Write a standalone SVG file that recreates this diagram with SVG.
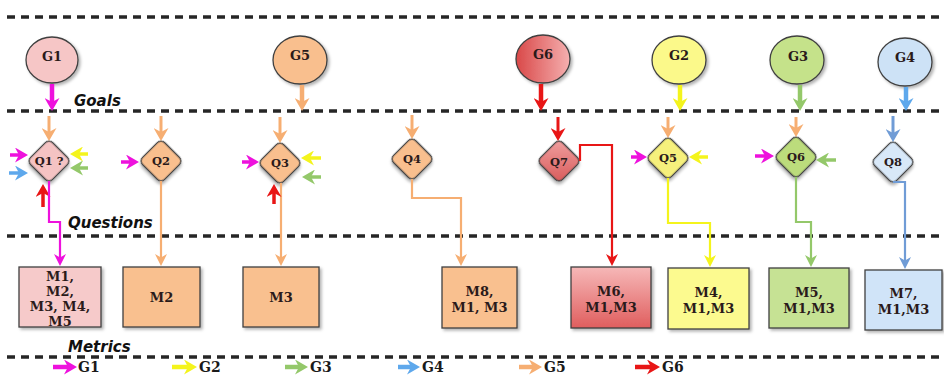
<svg xmlns="http://www.w3.org/2000/svg" width="944" height="376" viewBox="0 0 944 376">
  <style>
    .sep { stroke: #262626; stroke-width: 3.5; stroke-dasharray: 8 6; fill: none; }
    .lane { font-family: "DejaVu Sans", "Liberation Sans", sans-serif; font-weight: bold; font-style: italic; font-size: 15px; fill: #111; }
    .lbl { font-family: "DejaVu Serif", "Liberation Serif", serif; font-weight: bold; fill: #2a1a1a; text-anchor: middle; }
    .g { font-size: 13px; }
    .q { font-size: 11.5px; }
    .m { font-size: 13px; }
    .leg { font-family: "DejaVu Serif", "Liberation Serif", serif; font-weight: bold; font-size: 14px; fill: #1a1a1a; }
    .node { stroke: #404040; stroke-width: 1.3; filter: url(#shadow); }
    .big { fill: none; stroke-width: 4.5; }
    .in { fill: none; stroke-width: 3; }
    .side { fill: none; stroke-width: 3.5; }
    .flow { fill: none; stroke-width: 2.2; }
    .mag { stroke: #ee11dd; }
    .org { stroke: #f6ae72; }
    .red { stroke: #e81616; }
    .yel { stroke: #f4f41c; }
    .grn { stroke: #94c86a; }
    .blu { stroke: #5ea8ec; }
    .blu2 { stroke: #709cd6; }
  </style>
  <defs>
    <filter id="shadow" x="-30%" y="-30%" width="160%" height="160%">
      <feDropShadow dx="2" dy="2" stdDeviation="1.4" flood-color="#000" flood-opacity="0.3"/>
    </filter>
    <linearGradient id="redH" x1="0" y1="0" x2="1" y2="0">
      <stop offset="0" stop-color="#d94848"/>
      <stop offset="1" stop-color="#f5b0b0"/>
    </linearGradient>
    <linearGradient id="redD" x1="0" y1="0" x2="1" y2="1">
      <stop offset="0" stop-color="#f0a0a0"/>
      <stop offset="1" stop-color="#d85a5a"/>
    </linearGradient>
    <linearGradient id="redV" x1="0" y1="0" x2="0" y2="1">
      <stop offset="0" stop-color="#f6b8b8"/>
      <stop offset="1" stop-color="#e05e5e"/>
    </linearGradient>
    <!-- large notched heads: tip sits 8px beyond the path end -->
    <marker id="b-mag" viewBox="0 0 13 15" refX="5" refY="7.5" markerWidth="13" markerHeight="15" markerUnits="userSpaceOnUse" orient="auto"><path d="M0,0 L13,7.5 L0,15 L4,7.5 z" fill="#ee11dd"/></marker>
    <marker id="b-org" viewBox="0 0 13 15" refX="5" refY="7.5" markerWidth="13" markerHeight="15" markerUnits="userSpaceOnUse" orient="auto"><path d="M0,0 L13,7.5 L0,15 L4,7.5 z" fill="#f6ae72"/></marker>
    <marker id="b-red" viewBox="0 0 13 15" refX="5" refY="7.5" markerWidth="13" markerHeight="15" markerUnits="userSpaceOnUse" orient="auto"><path d="M0,0 L13,7.5 L0,15 L4,7.5 z" fill="#e81616"/></marker>
    <marker id="b-yel" viewBox="0 0 13 15" refX="5" refY="7.5" markerWidth="13" markerHeight="15" markerUnits="userSpaceOnUse" orient="auto"><path d="M0,0 L13,7.5 L0,15 L4,7.5 z" fill="#f4f41c"/></marker>
    <marker id="b-grn" viewBox="0 0 13 15" refX="5" refY="7.5" markerWidth="13" markerHeight="15" markerUnits="userSpaceOnUse" orient="auto"><path d="M0,0 L13,7.5 L0,15 L4,7.5 z" fill="#94c86a"/></marker>
    <marker id="b-blu" viewBox="0 0 13 15" refX="5" refY="7.5" markerWidth="13" markerHeight="15" markerUnits="userSpaceOnUse" orient="auto"><path d="M0,0 L13,7.5 L0,15 L4,7.5 z" fill="#5ea8ec"/></marker>
    <marker id="b-blu2" viewBox="0 0 13 15" refX="5" refY="7.5" markerWidth="13" markerHeight="15" markerUnits="userSpaceOnUse" orient="auto"><path d="M0,0 L13,7.5 L0,15 L4,7.5 z" fill="#709cd6"/></marker>
    <!-- small heads for connectors into metric boxes -->
    <marker id="s-mag" viewBox="0 0 12 12" refX="4" refY="6" markerWidth="12" markerHeight="12" markerUnits="userSpaceOnUse" orient="auto"><path d="M0,0 L12,6 L0,12 L3.5,6 z" fill="#ee11dd"/></marker>
    <marker id="s-org" viewBox="0 0 12 12" refX="4" refY="6" markerWidth="12" markerHeight="12" markerUnits="userSpaceOnUse" orient="auto"><path d="M0,0 L12,6 L0,12 L3.5,6 z" fill="#f6ae72"/></marker>
    <marker id="s-red" viewBox="0 0 12 12" refX="4" refY="6" markerWidth="12" markerHeight="12" markerUnits="userSpaceOnUse" orient="auto"><path d="M0,0 L12,6 L0,12 L3.5,6 z" fill="#e81616"/></marker>
    <marker id="s-yel" viewBox="0 0 12 12" refX="4" refY="6" markerWidth="12" markerHeight="12" markerUnits="userSpaceOnUse" orient="auto"><path d="M0,0 L12,6 L0,12 L3.5,6 z" fill="#f4f41c"/></marker>
    <marker id="s-grn" viewBox="0 0 12 12" refX="4" refY="6" markerWidth="12" markerHeight="12" markerUnits="userSpaceOnUse" orient="auto"><path d="M0,0 L12,6 L0,12 L3.5,6 z" fill="#94c86a"/></marker>
    <marker id="s-blu" viewBox="0 0 12 12" refX="4" refY="6" markerWidth="12" markerHeight="12" markerUnits="userSpaceOnUse" orient="auto"><path d="M0,0 L12,6 L0,12 L3.5,6 z" fill="#709cd6"/></marker>
  </defs>

  <rect width="944" height="376" fill="#ffffff"/>

  <!-- lane separators -->
  <g id="lanes">
    <line class="sep" x1="7" y1="17" x2="940" y2="17"/>
    <line class="sep" x1="7" y1="111" x2="940" y2="111"/>
    <line class="sep" x1="7" y1="236" x2="940" y2="236"/>
    <line class="sep" x1="7" y1="357" x2="940" y2="357"/>
    <text class="lane" x="74" y="106">Goals</text>
    <text class="lane" x="68" y="228">Questions</text>
    <text class="lane" x="68" y="352">Metrics</text>
  </g>

  <!-- goals -->
  <g id="G1"><ellipse class="node" cx="52" cy="60" rx="26" ry="23" fill="#f6c6c6"/><text class="lbl g" x="52" y="61">G1</text></g>
  <g id="G5"><ellipse class="node" cx="300" cy="60" rx="27" ry="24" fill="#f9bf8e"/><text class="lbl g" x="300" y="60">G5</text></g>
  <g id="G6"><ellipse class="node" cx="543" cy="59" rx="27" ry="24" fill="url(#redH)"/><text class="lbl g" x="543" y="59">G6</text></g>
  <g id="G2"><ellipse class="node" cx="679" cy="60" rx="27" ry="24" fill="#fbf98a"/><text class="lbl g" x="679" y="60">G2</text></g>
  <g id="G3"><ellipse class="node" cx="797" cy="60" rx="27" ry="24" fill="#c5e28a"/><text class="lbl g" x="798" y="61">G3</text></g>
  <g id="G4"><ellipse class="node" cx="905" cy="62" rx="27" ry="24" fill="#cde2f6"/><text class="lbl g" x="905" y="62">G4</text></g>

  <!-- questions -->
  <g id="Q1" transform="translate(49,161)"><rect class="node" x="-15.5" y="-15.5" width="31" height="31" rx="5" transform="rotate(45)" fill="#f5c3c3"/><text class="lbl q" x="0" y="4">Q1 ?</text></g>
  <g id="Q2" transform="translate(161,161)"><rect class="node" x="-15.5" y="-15.5" width="31" height="31" rx="5" transform="rotate(45)" fill="#f9bf8e"/><text class="lbl q" x="0" y="4">Q2</text></g>
  <g id="Q3" transform="translate(280,163)"><rect class="node" x="-15.5" y="-15.5" width="31" height="31" rx="5" transform="rotate(45)" fill="#f9bf8e"/><text class="lbl q" x="0" y="4">Q3</text></g>
  <g id="Q4" transform="translate(412,159)"><rect class="node" x="-15.5" y="-15.5" width="31" height="31" rx="5" transform="rotate(45)" fill="#f9bf8e"/><text class="lbl q" x="0" y="4">Q4</text></g>
  <g id="Q7" transform="translate(559,161)"><rect class="node" x="-15.5" y="-15.5" width="31" height="31" rx="5" transform="rotate(45)" fill="url(#redD)"/><text class="lbl q" x="0" y="5">Q7</text></g>
  <g id="Q5" transform="translate(668,158)"><rect class="node" x="-15.5" y="-15.5" width="31" height="31" rx="5" transform="rotate(45)" fill="#f6f07c"/><text class="lbl q" x="0" y="4">Q5</text></g>
  <g id="Q6" transform="translate(796,157)"><rect class="node" x="-15.5" y="-15.5" width="31" height="31" rx="5" transform="rotate(45)" fill="#bcdc7c"/><text class="lbl q" x="0" y="4">Q6</text></g>
  <g id="Q8" transform="translate(893,162)"><rect class="node" x="-15.5" y="-15.5" width="31" height="31" rx="5" transform="rotate(45)" fill="#d8e8f8" stroke="#7890b0"/><text class="lbl q" x="0" y="4">Q8</text></g>

  <!-- metrics -->
  <g id="M1"><rect class="node" x="19" y="267" width="82" height="60" fill="#f6caca"/>
    <text class="lbl m" x="60" y="281">M1,</text><text class="lbl m" x="60" y="296">M2,</text><text class="lbl m" x="60" y="311">M3, M4,</text><text class="lbl m" x="60" y="326">M5</text></g>
  <g id="M2"><rect class="node" x="123" y="267" width="77" height="60" fill="#f9c08f"/><text class="lbl m" x="161.5" y="302">M2</text></g>
  <g id="M3"><rect class="node" x="243" y="267" width="76" height="60" fill="#f9c08f"/><text class="lbl m" x="281" y="302">M3</text></g>
  <g id="M8"><rect class="node" x="442" y="267" width="75" height="61" fill="#f9c08f"/>
    <text class="lbl m" x="479.5" y="296">M8,</text><text class="lbl m" x="479.5" y="312">M1, M3</text></g>
  <g id="M6"><rect class="node" x="571" y="267" width="80" height="61" fill="url(#redV)"/>
    <text class="lbl m" x="611" y="296">M6,</text><text class="lbl m" x="611" y="312">M1,M3</text></g>
  <g id="M4"><rect class="node" x="668" y="268" width="81" height="61" fill="#fcfa8f"/>
    <text class="lbl m" x="708.5" y="297">M4,</text><text class="lbl m" x="708.5" y="313">M1,M3</text></g>
  <g id="M5"><rect class="node" x="769" y="268" width="80" height="60" fill="#c6e294"/>
    <text class="lbl m" x="809" y="297">M5,</text><text class="lbl m" x="809" y="313">M1,M3</text></g>
  <g id="M7"><rect class="node" x="865" y="270" width="77" height="60" fill="#d0e4f8" stroke="#506070"/>
    <text class="lbl m" x="903.5" y="298">M7,</text><text class="lbl m" x="903.5" y="314">M1,M3</text></g>

  <!-- connectors -->
  <g id="connectors">
    <!-- goal to goal lane -->
    <path class="big mag" d="M52,84 V103" marker-end="url(#b-mag)"/>
    <path class="big org" d="M302,85 V103" marker-end="url(#b-org)"/>
    <path class="big red" d="M541,84 V103" marker-end="url(#b-red)"/>
    <path class="big yel" d="M680,85 V103" marker-end="url(#b-yel)"/>
    <path class="big grn" d="M800,85 V103" marker-end="url(#b-grn)"/>
    <path class="big blu" d="M906,87 V103" marker-end="url(#b-blu)"/>
    <!-- into questions from above -->
    <path class="in org" d="M49,116 V133" marker-end="url(#b-org)"/>
    <path class="in org" d="M161,116 V133" marker-end="url(#b-org)"/>
    <path class="in org" d="M280,117 V135" marker-end="url(#b-org)"/>
    <path class="in org" d="M412,115 V131" marker-end="url(#b-org)"/>
    <path class="in red" d="M558,117 V133" marker-end="url(#b-red)"/>
    <path class="in org" d="M668,117 V130" marker-end="url(#b-org)"/>
    <path class="in org" d="M796,117 V129" marker-end="url(#b-org)"/>
    <path class="in blu2" d="M893,116 V134" marker-end="url(#b-blu2)"/>
    <!-- side inputs -->
    <path class="side mag" d="M10,155 H20" marker-end="url(#b-mag)"/>
    <path class="side blu" d="M9,173 H20" marker-end="url(#b-blu)"/>
    <path class="side yel" d="M88,154 H78" marker-end="url(#b-yel)"/>
    <path class="side grn" d="M88,168 H78" marker-end="url(#b-grn)"/>
    <path class="side red" d="M43,207 V192" marker-end="url(#b-red)"/>
    <path class="side mag" d="M121,162 H131" marker-end="url(#b-mag)"/>
    <path class="side mag" d="M242,162 H251" marker-end="url(#b-mag)"/>
    <path class="side yel" d="M321,158 H309" marker-end="url(#b-yel)"/>
    <path class="side grn" d="M321,177 H310" marker-end="url(#b-grn)"/>
    <path class="side mag" d="M631,157 H639" marker-end="url(#b-mag)"/>
    <path class="side yel" d="M708,157 H697" marker-end="url(#b-yel)"/>
    <path class="side mag" d="M755,156 H766" marker-end="url(#b-mag)"/>
    <path class="side grn" d="M836,160 H824" marker-end="url(#b-grn)"/>
    <!-- questions to metrics -->
    <path class="flow mag" d="M49,181 V222 H60 V258" marker-end="url(#s-mag)"/>
    <path class="flow org" d="M161,181 V258" marker-end="url(#s-org)"/>
    <path class="flow org" d="M281,183 V258" marker-end="url(#s-org)"/>
    <path class="side red" d="M274,204 V192" marker-end="url(#b-red)"/>
    <path class="flow org" d="M412,179 V198 H461 V258" marker-end="url(#s-org)"/>
    <path class="flow red" d="M580,161 V145 H612 V258" marker-end="url(#s-red)"/>
    <path class="flow yel" d="M668,178 V223 H710 V259" marker-end="url(#s-yel)"/>
    <path class="flow grn" d="M796,177 V222 H811 V259" marker-end="url(#s-grn)"/>
    <path class="flow blu2" d="M893,182 H905 V261" marker-end="url(#s-blu)"/>
  </g>

  <!-- colour key -->
  <g id="legend">
    <path class="big mag" d="M53,367 H69" marker-end="url(#b-mag)"/><text class="leg" x="78" y="372">G1</text>
    <path class="big yel" d="M172,367 H189" marker-end="url(#b-yel)"/><text class="leg" x="199" y="372">G2</text>
    <path class="big grn" d="M285,367 H300" marker-end="url(#b-grn)"/><text class="leg" x="310" y="372">G3</text>
    <path class="big blu" d="M398,367 H412" marker-end="url(#b-blu)"/><text class="leg" x="422" y="372">G4</text>
    <path class="big org" d="M519,367 H534" marker-end="url(#b-org)"/><text class="leg" x="544" y="372">G5</text>
    <path class="big red" d="M635,367 H652" marker-end="url(#b-red)"/><text class="leg" x="662" y="372">G6</text>
  </g>
</svg>
